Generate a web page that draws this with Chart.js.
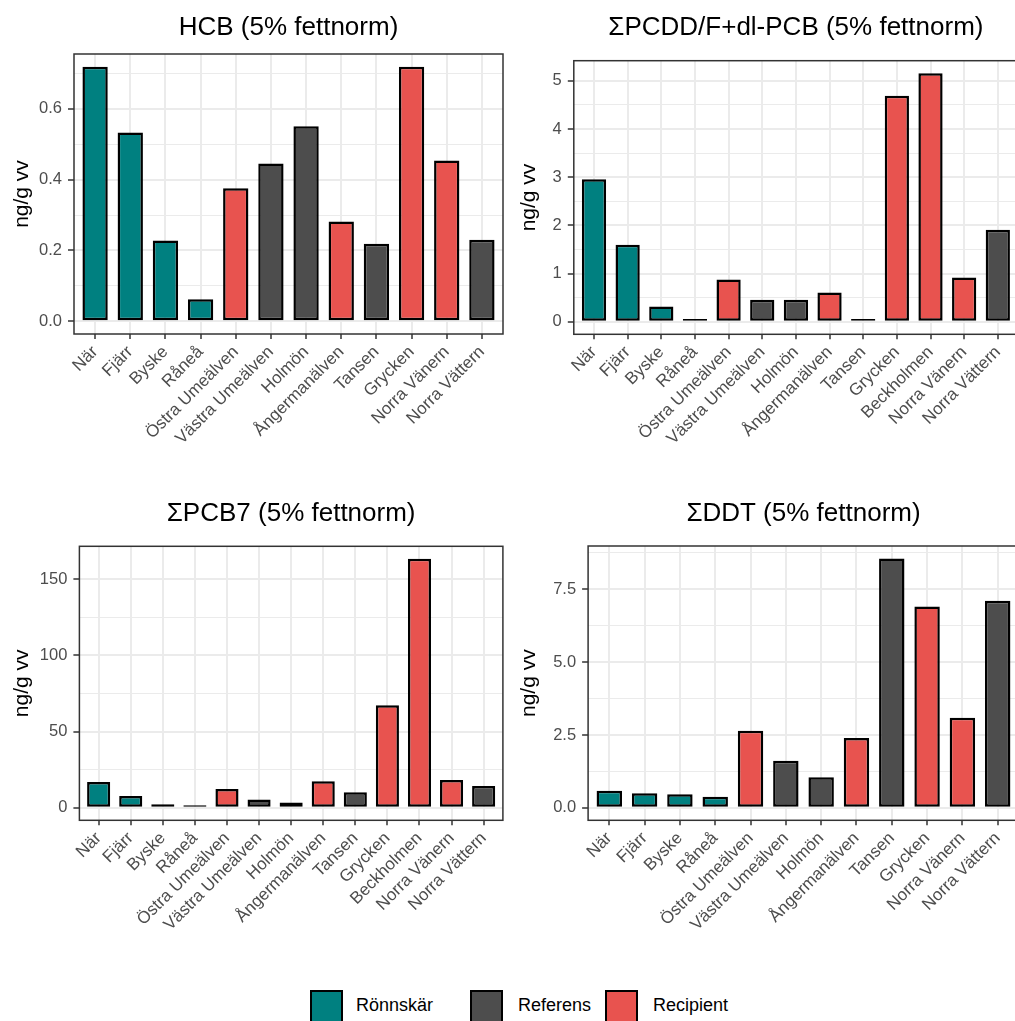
<!DOCTYPE html>
<html>
<head>
<meta charset="utf-8">
<script src="https://cdn.jsdelivr.net/npm/chart.js@4.4.1/dist/chart.umd.min.js"></script>
<style>
  html, body { margin: 0; padding: 0; background: #ffffff; overflow: hidden; }
  #page { position: relative; width: 1015px; height: 1021px; overflow: hidden;
          font-family: 'Liberation Sans', Arial, sans-serif; }
  #page canvas { position: absolute; }
  .key { position: absolute; width: 33px; height: 33px; box-sizing: border-box; border: 2px solid #000; }
  .keytext { position: absolute; font-size: 18px; color: #000; line-height: 20px; }
</style>
</head>
<body>
<div id="page">
  <canvas id="hcb" width="507" height="480" style="left:0px;top:0px"></canvas>
  <canvas id="pcdd" width="520" height="480" style="left:507px;top:0px"></canvas>
  <canvas id="pcb7" width="507" height="480" style="left:0px;top:490px"></canvas>
  <canvas id="ddt" width="520" height="480" style="left:507px;top:490px"></canvas>
  <div id="legend"></div>
</div>
<script>
// Sampling sites (12 without Beckholmen, 13 with it) and the group of each site
const sites12 = ['När', 'Fjärr', 'Byske', 'Råneå', 'Östra Umeälven', 'Västra Umeälven', 'Holmön',
                 'Ångermanälven', 'Tansen', 'Grycken', 'Norra Vänern', 'Norra Vättern'];
const groups12 = ['Rönnskär', 'Rönnskär', 'Rönnskär', 'Rönnskär', 'Recipient', 'Referens', 'Referens',
                  'Recipient', 'Referens', 'Recipient', 'Recipient', 'Referens'];
const sites13 = ['När', 'Fjärr', 'Byske', 'Råneå', 'Östra Umeälven', 'Västra Umeälven', 'Holmön',
                 'Ångermanälven', 'Tansen', 'Grycken', 'Beckholmen', 'Norra Vänern', 'Norra Vättern'];
const groups13 = ['Rönnskär', 'Rönnskär', 'Rönnskär', 'Rönnskär', 'Recipient', 'Referens', 'Referens',
                  'Recipient', 'Referens', 'Recipient', 'Recipient', 'Recipient', 'Referens'];

// Concentrations, ng/g wet weight (5% lipid normalised)
const hcbValues  = [0.719, 0.533, 0.228, 0.062, 0.376, 0.446, 0.551, 0.282, 0.219, 0.719, 0.454, 0.230];
const pcddValues = [2.96, 1.60, 0.32, 0.06, 0.88, 0.46, 0.46, 0.61, 0.06, 4.69, 5.16, 0.92, 1.91];
const pcb7Values = [16.9, 7.7, 2.4, 1.75, 12.3, 5.5, 3.5, 17.5, 10.3, 67.4, 163.5, 18.2, 14.4];
const ddtValues  = [0.59, 0.50, 0.47, 0.38, 2.65, 1.62, 1.05, 2.40, 8.56, 6.91, 3.09, 7.11];

// Y-axis breaks and their labels
const hcbTicks  = [0, 0.2, 0.4, 0.6];   const hcbTickLabels  = ['0.0', '0.2', '0.4', '0.6'];
const pcddTicks = [0, 1, 2, 3, 4, 5];   const pcddTickLabels = ['0', '1', '2', '3', '4', '5'];
const pcb7Ticks = [0, 50, 100, 150];    const pcb7TickLabels = ['0', '50', '100', '150'];
const ddtTicks  = [0, 2.5, 5, 7.5];     const ddtTickLabels  = ['0.0', '2.5', '5.0', '7.5'];

const groupNames = ['Rönnskär', 'Referens', 'Recipient'];
const groupColors = { 'Rönnskär': '#008080', 'Referens': '#4D4D4D', 'Recipient': '#E8534F' };

Chart.defaults.font.family = "'Liberation Sans', Arial, sans-serif";

// Draws the dark frame around each plotting panel
const panelBorder = {
  id: 'panelBorder',
  afterDatasetsDraw(chart) {
    const { ctx, chartArea: a } = chart;
    ctx.save();
    ctx.strokeStyle = '#333333';
    ctx.lineWidth = 1.5;
    ctx.strokeRect(a.left, a.top, a.right - a.left, a.bottom - a.top);
    ctx.restore();
  }
};

function makePanel(id, title, sites, groups, values, ticks, tickLabels, box) {
  const step = ticks[1] - ticks[0];
  const vmax = Math.max(...values);
  const yMin = -0.05 * vmax;
  const yMax = 1.05 * vmax;
  const minor = [];
  ticks.forEach(t => { if (t + step / 2 <= yMax) minor.push(t + step / 2); });
  const yTickValues = ticks.concat(minor).sort((a, b) => a - b);
  const majorIndex = v => ticks.findIndex(t => Math.abs(t - v) < step * 1e-6);

  new Chart(document.getElementById(id), {
    type: 'bar',
    data: {
      datasets: [{
        data: values.map((v, i) => ({ x: i, y: v })),
        backgroundColor: groups.map(g => groupColors[g]),
        borderColor: '#000000',
        borderWidth: 2.5,
        borderSkipped: false,
        inflateAmount: 0,
        barPercentage: 0.72,
        categoryPercentage: 1
      }]
    },
    options: {
      responsive: false,
      animation: false,
      events: [],
      layout: { padding: { left: 0, right: box.padRight, top: 0, bottom: 0 } },
      plugins: {
        legend: { display: false },
        tooltip: { enabled: false },
        title: {
          display: true, text: title, fullSize: false, color: '#000000',
          font: { size: 26, weight: 'normal' },
          padding: { top: box.titleTop, bottom: box.titleBottom }
        }
      },
      scales: {
        x: {
          type: 'linear', offset: false, bounds: 'data',
          min: -0.6, max: sites.length - 0.4,
          afterBuildTicks: s => { s.ticks = sites.map((_, i) => ({ value: i })); },
          afterFit: s => { s.height = box.xAxisHeight; },
          ticks: {
            autoSkip: false, minRotation: 45, maxRotation: 45, color: '#4D4D4D',
            font: { size: 17 }, padding: 3,
            callback: v => sites[Math.round(v)]
          },
          grid: { offset: false, color: '#EBEBEB', lineWidth: 2, tickColor: '#333333', tickWidth: 1.5, tickLength: 5 },
          border: { display: false }
        },
        y: {
          type: 'linear', bounds: 'data', min: yMin, max: yMax, beginAtZero: false,
          afterBuildTicks: s => { s.ticks = yTickValues.map(v => ({ value: v })); },
          afterFit: s => { s.width = box.yAxisWidth; },
          ticks: {
            autoSkip: false, color: '#4D4D4D', font: { size: 16.5 }, padding: 6,
            callback: v => { const k = majorIndex(v); return k >= 0 ? tickLabels[k] : ''; }
          },
          grid: {
            color: '#EBEBEB',
            lineWidth: c => (c.tick && majorIndex(c.tick.value) >= 0) ? 2 : 1,
            tickColor: c => (c.tick && majorIndex(c.tick.value) >= 0) ? '#333333' : 'rgba(0,0,0,0)',
            tickWidth: 1.5, tickLength: 6
          },
          border: { display: false },
          title: {
            display: true, text: 'ng/g vv', color: '#000000',
            font: { size: 21 }, padding: { top: 9.5, bottom: 0 }
          }
        }
      }
    },
    plugins: [panelBorder]
  });
}

makePanel('hcb', 'HCB (5% fettnorm)', sites12, groups12, hcbValues, hcbTicks, hcbTickLabels,
  { yAxisWidth: 74, padRight: 4, titleTop: 12.7, titleBottom: 10.1, xAxisHeight: 146 });
makePanel('pcdd', 'ΣPCDD/F+dl-PCB (5% fettnorm)', sites13, groups13, pcddValues, pcddTicks, pcddTickLabels,
  { yAxisWidth: 66.8, padRight: 9, titleTop: 12.7, titleBottom: 16.8, xAxisHeight: 145.7 });
makePanel('pcb7', 'ΣPCB7 (5% fettnorm)', sites13, groups13, pcb7Values, pcb7Ticks, pcb7TickLabels,
  { yAxisWidth: 79.4, padRight: 4.1, titleTop: 8.4, titleBottom: 16.7, xAxisHeight: 149.7 });
makePanel('ddt', 'ΣDDT (5% fettnorm)', sites12, groups12, ddtValues, ddtTicks, ddtTickLabels,
  { yAxisWidth: 81.1, padRight: 8.1, titleTop: 8.4, titleBottom: 16.4, xAxisHeight: 149.7 });

// Shared legend below the panels
const legend = document.getElementById('legend');
const keyLeft = [310, 470, 605];
const textLeft = [356, 518, 653];
groupNames.forEach((g, i) => {
  const key = document.createElement('div');
  key.className = 'key';
  key.style.left = keyLeft[i] + 'px';
  key.style.top = '990px';
  key.style.background = groupColors[g];
  legend.appendChild(key);
  const txt = document.createElement('div');
  txt.className = 'keytext';
  txt.style.left = textLeft[i] + 'px';
  txt.style.top = '995px';
  txt.textContent = g;
  legend.appendChild(txt);
});
</script>
</body>
</html>
